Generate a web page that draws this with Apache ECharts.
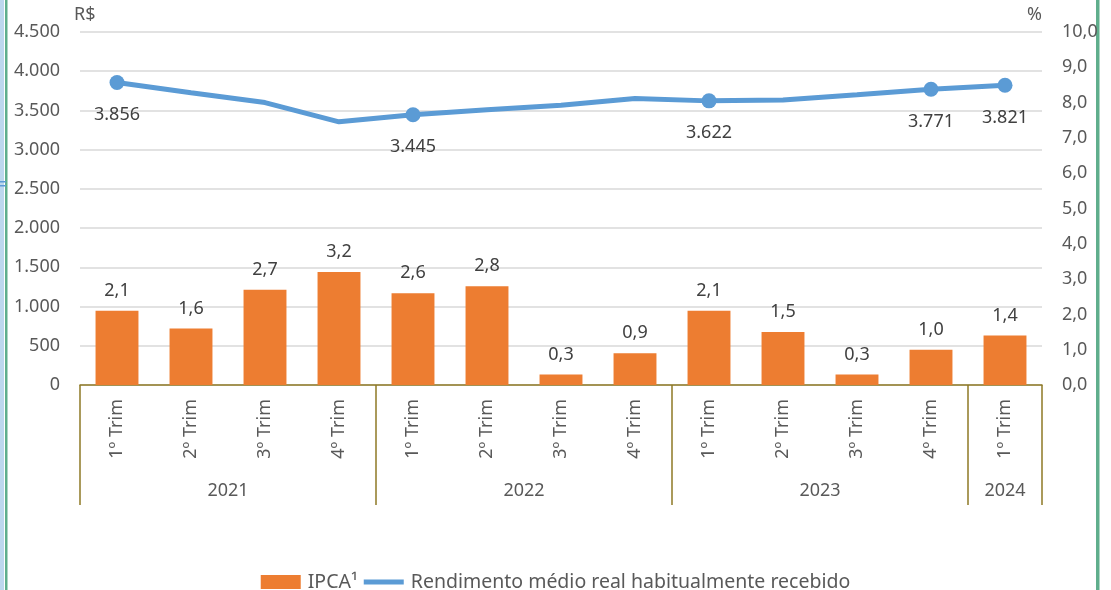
<!DOCTYPE html>
<html>
<head>
<meta charset="utf-8">
<script src="https://cdn.jsdelivr.net/npm/echarts@6/dist/echarts.min.js"></script>
<style>
html,body{margin:0;padding:0;background:#fff;}
#chart{width:1111px;height:590px;}
</style>
</head>
<body>
<div id="chart"></div>
<script>
// dados
var trimestres = ['1º Trim','2º Trim','3º Trim','4º Trim','1º Trim','2º Trim','3º Trim','4º Trim','1º Trim','2º Trim','3º Trim','4º Trim','1º Trim'];
var anos = ['2021','2022','2023','2024'];
var anoMeio = [2, 6, 10, 12.5];
var anoSep = [0, 4, 8, 12, 13];
var ipca = [2.1, 1.6, 2.7, 3.2, 2.6, 2.8, 0.3, 0.9, 2.1, 1.5, 0.3, 1.0, 1.4];
var rendimento = [3856, 3725, 3600, 3355, 3445, 3510, 3567, 3652, 3622, 3632, 3700, 3771, 3821];
var marcados = [0, 4, 8, 11, 12];

var corEixo = '#8f7a26';
var corTexto = '#595959';
var fonte = 18;

function milhar(v){
    return String(v).replace(/\B(?=(\d{3})+(?!\d))/g, '.');
}
function decimal(v){
    return v.toFixed(1).replace('.', ',');
}

var linhaDados = rendimento.map(function(v, i){
    var m = marcados.indexOf(i) >= 0;
    return {
        value: v,
        symbol: m ? 'circle' : 'none',
        label: { show: m }
    };
});

var chart = echarts.init(document.getElementById('chart'));
var options = {
    textStyle: { fontFamily: 'Noto Sans' },
    animation: false,
    grid: {
        top: 32,
        left: 80,
        right: 69,
        bottom: 205,
        containLabel: false
    },
    legend: {
        left: 'center',
        top: 567,
        itemWidth: 40,
        itemHeight: 14,
        itemGap: 6,
        textStyle: { fontSize: 19.5, color: corTexto, padding: [0, 0, 0, 2] },
        data: [
            { name: 'IPCA¹', icon: 'rect' },
            { name: 'Rendimento médio real habitualmente recebido', icon: 'path://M0,0h40v5h-40z' }
        ]
    },
    xAxis: [{
        type: 'category',
        data: trimestres,
        axisLine: { show: true, lineStyle: { color: corEixo, width: 1.5 } },
        axisTick: { show: false },
        axisLabel: {
            rotate: 90,
            interval: 0,
            margin: 14,
            fontSize: fonte,
            color: corTexto
        }
    }, {
        type: 'value',
        position: 'bottom',
        min: 0,
        max: 13,
        axisLine: { show: false },
        splitLine: { show: false },
        axisTick: {
            show: true,
            customValues: anoSep,
            length: 120,
            lineStyle: { color: corEixo, width: 1.5 }
        },
        axisLabel: {
            customValues: anoMeio,
            margin: 97,
            fontSize: fonte,
            color: corTexto,
            formatter: function(v){ return anos[anoMeio.indexOf(v)]; }
        }
    }],
    yAxis: [{
        type: 'value',
        name: 'R$',
        nameGap: 8,
        nameTextStyle: { fontSize: fonte, color: corTexto, align: 'left', padding: [0, 0, 0, -6] },
        min: 0,
        max: 4500,
        interval: 500,
        axisLine: { show: false },
        axisTick: { show: false },
        axisLabel: { margin: 20, fontSize: fonte, color: corTexto, formatter: milhar },
        splitLine: { lineStyle: { color: '#d9d9d9', width: 1.5 } }
    }, {
        type: 'value',
        name: '%',
        nameGap: 8,
        nameTextStyle: { fontSize: fonte, color: corTexto, align: 'right' },
        position: 'right',
        min: 0,
        max: 10,
        interval: 1,
        axisLine: { show: false },
        axisTick: { show: false },
        axisLabel: { margin: 20, fontSize: fonte, color: corTexto, formatter: decimal },
        splitLine: { show: false }
    }],
    series: [{
        name: 'IPCA¹',
        type: 'bar',
        yAxisIndex: 1,
        barWidth: '58%',
        itemStyle: { color: '#ed7d31' },
        label: {
            show: true,
            position: 'top',
            distance: 11,
            fontSize: fonte,
            color: '#404040',
            formatter: function(p){ return decimal(p.value); }
        },
        data: ipca
    }, {
        name: 'Rendimento médio real habitualmente recebido',
        type: 'line',
        yAxisIndex: 0,
        z: 5,
        symbolSize: 15,
        itemStyle: { color: '#5b9bd5' },
        lineStyle: { color: '#5b9bd5', width: 5 },
        label: {
            position: 'bottom',
            distance: 16,
            fontSize: fonte,
            color: '#404040',
            formatter: function(p){ return milhar(p.value); }
        },
        data: linhaDados
    }],
    graphic: [
        { type: 'rect', left: 0, top: 0, shape: { width: 4, height: 590 }, style: { fill: '#bdd7ee' } },
        { type: 'rect', left: 5, top: 0, shape: { width: 2.5, height: 590 }, style: { fill: '#5fae8c' } },
        { type: 'rect', left: 0, top: 181, shape: { width: 6, height: 1.5 }, style: { fill: '#5b9bd5' } },
        { type: 'rect', left: 0, top: 185, shape: { width: 6, height: 1.5 }, style: { fill: '#5b9bd5' } },
        { type: 'rect', left: 1096, top: 0, shape: { width: 3.5, height: 590 }, style: { fill: '#5fae8c' } }
    ]
};
chart.setOption(options);

setTimeout(function (){
    window.onresize = function () {
        chart.resize();
    }
},200);
</script>
</body>
</html>
